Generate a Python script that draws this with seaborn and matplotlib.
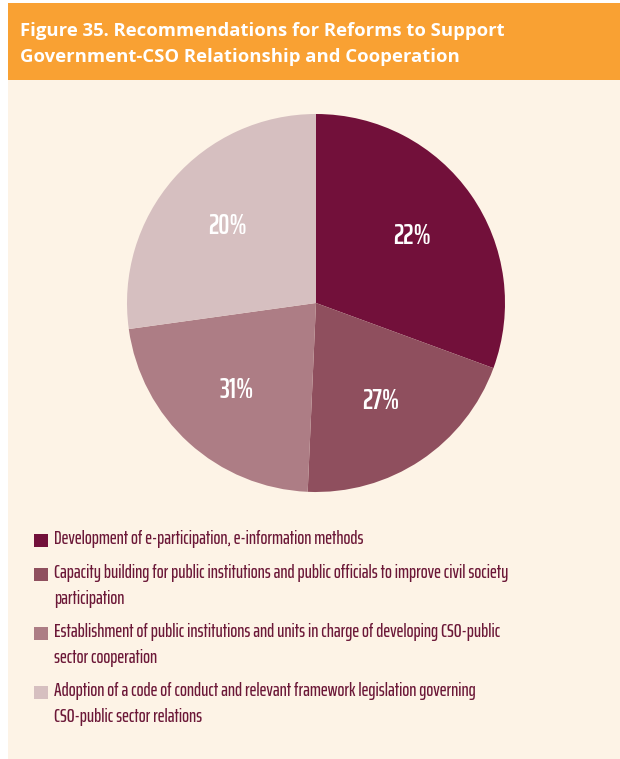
import numpy as np
import matplotlib
matplotlib.use('Agg')
import matplotlib.pyplot as plt
import seaborn as sns
from matplotlib.patches import Rectangle

# Data
categories = [
    'Development of e-participation, e-information methods',
    'Capacity building for public institutions and public officials to improve civil society\nparticipation',
    'Establishment of public institutions and units in charge of developing CSO-public\nsector cooperation',
    'Adoption of a code of conduct and relevant framework legislation governing\nCSO-public sector relations',
]
slice_sizes = [30.6, 20.1, 22.1, 27.2]
pct_labels = ['22%', '27%', '31%', '20%']
colors = ['#72103a', '#8f4f5e', '#ad7d85', '#d6bfc0']

title = 'Figure 35. Recommendations for Reforms to Support\nGovernment-CSO Relationship and Cooperation'

sns.set_theme(style='white')
plt.rcParams['font.family'] = ['Saira ExtraCondensed', 'Barlow Condensed', 'DejaVu Sans']

W, H = 620, 759
fig = plt.figure(figsize=(W / 100, H / 100), dpi=100)
fig.patch.set_facecolor('white')

# Background panels (figure pixel coords -> fraction)
def fx(x):
    return x / W

def fy(y):
    return 1 - y / H

fig.patches.append(Rectangle((fx(8), fy(759)), fx(620 - 8), (759 - 80) / H,
                             transform=fig.transFigure, facecolor='#fdf3e6', edgecolor='none', zorder=-2))
fig.patches.append(Rectangle((fx(8), fy(80)), fx(620 - 8), (80 - 3) / H,
                             transform=fig.transFigure, facecolor='#f9a133', edgecolor='none', zorder=-2))

fig.text(fx(20), fy(44), title, color='white', fontsize=13.3, fontweight='bold',
         family=['Open Sans', 'DejaVu Sans'], va='center', ha='left', linespacing=1.62)

# Pie: center (316, 303), radius ~189 px
r = 189
ax = fig.add_axes([fx(316 - r), fy(303 + r), 2 * r / W, 2 * r / H])
wedges, texts = ax.pie(slice_sizes, labels=pct_labels, colors=colors, startangle=90,
                       counterclock=False, labeldistance=0.62,
                       wedgeprops=dict(linewidth=0),
                       textprops=dict(color='white', fontsize=20, fontweight='semibold'))
for t in texts:
    t.set_ha('center')
    t.set_va('center')
ax.set_aspect('equal')
ax.set_xlim(-1, 1)
ax.set_ylim(-1, 1)
ax.axis('off')

# Legend drawn as squares + wrapped text
legend_y = [540, 574, 633, 692]
for y, c, lab in zip(legend_y, colors, categories):
    fig.patches.append(Rectangle((fx(34), fy(y + 7)), 13.5 / W, 13.5 / H,
                                 transform=fig.transFigure, facecolor=c, edgecolor='none'))
    fig.text(fx(54), fy(y - 10), lab, color='#6b1737', fontsize=13.3, fontweight='medium',
             va='top', ha='left', linespacing=1.55)

fig.savefig('out.png', dpi=100, facecolor=fig.get_facecolor())
